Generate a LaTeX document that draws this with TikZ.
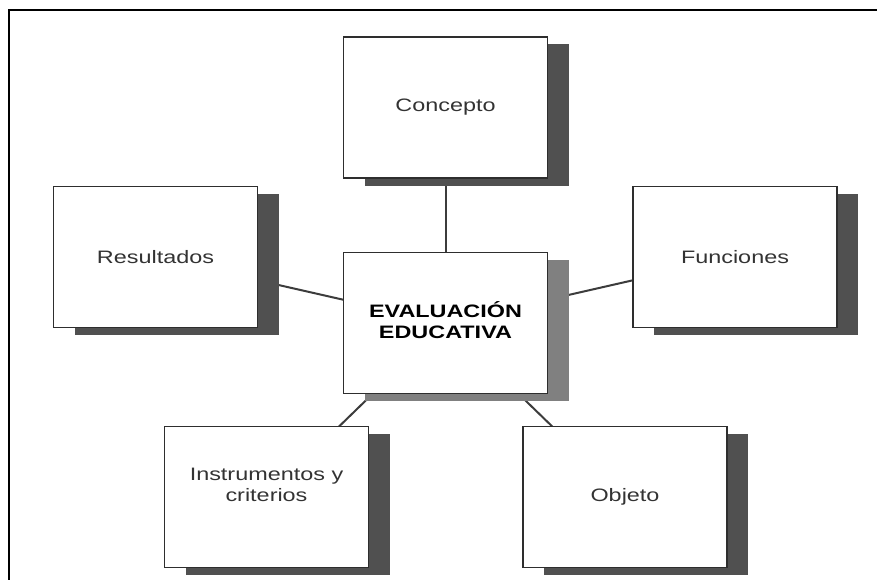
\documentclass[tikz,border=0pt]{standalone}
\usepackage{fontspec}
\setmainfont{Liberation Sans}
\usepackage{graphicx}
\usetikzlibrary{shadows,backgrounds}
\definecolor{sombra}{HTML}{505050}
\definecolor{sombraclara}{HTML}{808080}
\definecolor{borde}{HTML}{2E2E2E}
\definecolor{linea}{HTML}{3C3C3C}
\definecolor{texto}{HTML}{333333}
\newcommand{\ancho}[1]{\scalebox{1.3}[1]{#1}}
\begin{document}
\begin{tikzpicture}[x=1pt,y=-1pt,
        caja/.style={draw=borde, line width=1.8pt, fill=white,
            minimum width=204pt, minimum height=141pt, inner sep=0pt,
            text=texto, font=\fontsize{18}{21}\selectfont,
            drop shadow={shadow xshift=21pt, shadow yshift=-7.5pt, opacity=1, fill=#1}},
        caja/.default=sombra,
        enlace/.style={draw=linea, line width=2pt}]
        \useasboundingbox (0,0) rectangle (877,580);

        %frame
        \draw[line width=2pt] (8.5,580) -- (8.5,10.5) -- (877,10.5);

        %central box
        \node (centro) [caja=sombraclara, text=black, font=\fontsize{18}{21}\selectfont\bfseries]
            at (445.5,323) {\ancho{\begin{tabular}[b]{@{}c@{}}EVALUACIÓN\\EDUCATIVA\end{tabular}}};

        %boxes around
        \node (concepto) [caja] at (445.5,107.5) {\ancho{Concepto}};
        \node (resultados) [caja] at (155.5,257) {\ancho{Resultados}};
        \node (funciones) [caja] at (735,257) {\ancho{Funciones}};
        \node (instrumentos) [caja, text depth=27.7pt] at (266.5,497)
            {\ancho{\begin{tabular}[b]{@{}c@{}}Instrumentos y\\criterios\end{tabular}}};
        \node (objeto) [caja] at (625,497) {\ancho{Objeto}};

        %lines
        \begin{scope}[on background layer]
            \draw[enlace] (centro.center) -- (concepto.center);
            \draw[enlace] (centro.center) -- (resultados.center);
            \draw[enlace] (centro.center) -- (funciones.center);
            \draw[enlace] (centro.center) -- (instrumentos.center);
            \draw[enlace] (centro.center) -- (objeto.center);
        \end{scope}
    \end{tikzpicture}
\end{document}
